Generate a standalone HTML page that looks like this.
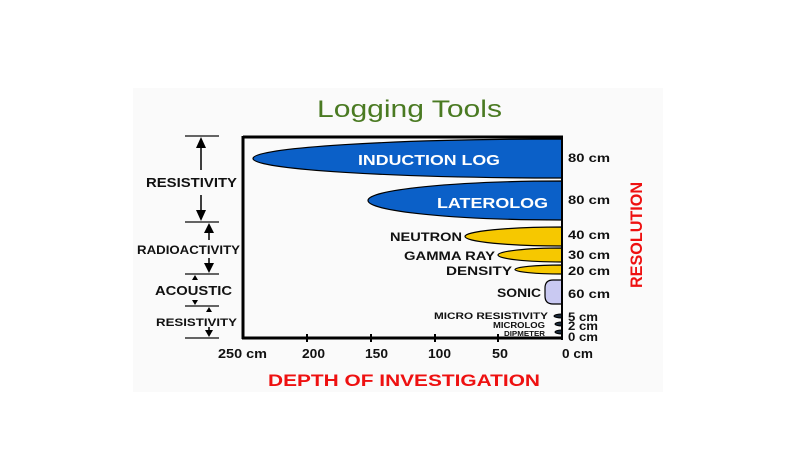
<!DOCTYPE html>
<html><head><meta charset="utf-8"><style>
html,body{margin:0;padding:0;background:#fff;}
svg{display:block;}
text{font-family:"Liberation Sans",Arial,sans-serif;font-weight:bold;}
</style></head><body>
<svg width="800" height="449" viewBox="0 0 800 449" xmlns="http://www.w3.org/2000/svg">
<rect x="0" y="0" width="800" height="449" fill="#fff"/>
<rect x="133" y="88" width="530" height="304" fill="#fafafa"/>

<text x="317" y="117" font-size="24" style="font-weight:normal" fill="#4a7a22" textLength="185" lengthAdjust="spacingAndGlyphs">Logging Tools</text>

<!-- shapes -->
<path d="M562,139 A309,19.5 0 0 0 562,178 Z" fill="#0b60c8" stroke="#000" stroke-width="1.2"/>
<path d="M562,181 A194,19.5 0 0 0 562,220 Z" fill="#0b60c8" stroke="#000" stroke-width="1.2"/>
<path d="M562,227 A97,9.5 0 0 0 562,246 Z" fill="#f6c800" stroke="#000" stroke-width="1.2"/>
<path d="M562,248 A64,7 0 0 0 562,262 Z" fill="#f6c800" stroke="#000" stroke-width="1.2"/>
<path d="M562,265 A47,4.5 0 0 0 562,274 Z" fill="#f6c800" stroke="#000" stroke-width="1.2"/>
<path d="M562,280 L553,280 Q545,280 545,288 L545,296 Q545,304 553,304 L562,304 Z" fill="#c9c9f2" stroke="#000" stroke-width="1.2"/>
<path d="M562,314 A8,2 0 0 0 562,318 Z" fill="#1a2a3a" stroke="#000" stroke-width="1"/>
<path d="M562,322 A7,2 0 0 0 562,326 Z" fill="#1a2a3a" stroke="#000" stroke-width="1"/>
<path d="M562,330 A7,2 0 0 0 562,334 Z" fill="#1a2a3a" stroke="#000" stroke-width="1"/>

<!-- frame -->
<line x1="243" y1="137" x2="563" y2="137" stroke="#000" stroke-width="3"/>
<line x1="243" y1="136" x2="243" y2="339" stroke="#000" stroke-width="3"/>
<line x1="242" y1="338" x2="563" y2="338" stroke="#000" stroke-width="3"/>
<line x1="562" y1="136" x2="562" y2="340" stroke="#000" stroke-width="2"/>
<g stroke="#000" stroke-width="2">
<line x1="307" y1="334" x2="307" y2="342"/>
<line x1="371" y1="334" x2="371" y2="342"/>
<line x1="435" y1="334" x2="435" y2="342"/>
<line x1="498" y1="334" x2="498" y2="342"/>
</g>

<!-- in-chart labels -->
<text x="358" y="165" font-size="15" fill="#fff" textLength="142" lengthAdjust="spacingAndGlyphs">INDUCTION LOG</text>
<text x="437" y="208" font-size="15" fill="#fff" textLength="111" lengthAdjust="spacingAndGlyphs">LATEROLOG</text>
<text x="390" y="241" font-size="12" fill="#111" textLength="72" lengthAdjust="spacingAndGlyphs">NEUTRON</text>
<text x="404" y="260" font-size="12" fill="#111" textLength="91" lengthAdjust="spacingAndGlyphs">GAMMA RAY</text>
<text x="446" y="275" font-size="12" fill="#111" textLength="66" lengthAdjust="spacingAndGlyphs">DENSITY</text>
<text x="497" y="297" font-size="12" fill="#111" textLength="44" lengthAdjust="spacingAndGlyphs">SONIC</text>
<text x="434" y="319" font-size="9.5" fill="#111" textLength="114" lengthAdjust="spacingAndGlyphs">MICRO RESISTIVITY</text>
<text x="493" y="328" font-size="8" fill="#111" textLength="52" lengthAdjust="spacingAndGlyphs">MICROLOG</text>
<text x="504" y="336" font-size="7" fill="#111" textLength="41" lengthAdjust="spacingAndGlyphs">DIPMETER</text>

<!-- right labels -->
<g font-size="12" fill="#111">
<text x="568" y="162" textLength="42" lengthAdjust="spacingAndGlyphs">80 cm</text>
<text x="568" y="204" textLength="42" lengthAdjust="spacingAndGlyphs">80 cm</text>
<text x="568" y="239" textLength="42" lengthAdjust="spacingAndGlyphs">40 cm</text>
<text x="568" y="259" textLength="42" lengthAdjust="spacingAndGlyphs">30 cm</text>
<text x="568" y="275" textLength="42" lengthAdjust="spacingAndGlyphs">20 cm</text>
<text x="568" y="298" textLength="42" lengthAdjust="spacingAndGlyphs">60 cm</text>
<text x="568" y="321" textLength="30" lengthAdjust="spacingAndGlyphs">5 cm</text>
<text x="568" y="330" textLength="30" lengthAdjust="spacingAndGlyphs">2 cm</text>
<text x="568" y="341" textLength="30" lengthAdjust="spacingAndGlyphs">0 cm</text>
</g>
<text transform="translate(642,288) rotate(-90)" x="0" y="0" font-size="17" fill="#ee1111" textLength="106" lengthAdjust="spacingAndGlyphs">RESOLUTION</text>

<!-- bottom axis labels -->
<g font-size="13" fill="#111">
<text x="218" y="358" textLength="49" lengthAdjust="spacingAndGlyphs">250 cm</text>
<text x="302" y="358" textLength="23" lengthAdjust="spacingAndGlyphs">200</text>
<text x="365" y="358" textLength="23" lengthAdjust="spacingAndGlyphs">150</text>
<text x="428" y="358" textLength="23" lengthAdjust="spacingAndGlyphs">100</text>
<text x="492" y="358" textLength="16" lengthAdjust="spacingAndGlyphs">50</text>
<text x="562" y="358" textLength="31" lengthAdjust="spacingAndGlyphs">0 cm</text>
</g>
<text x="268" y="386" font-size="17" fill="#ee1111" textLength="272" lengthAdjust="spacingAndGlyphs">DEPTH OF INVESTIGATION</text>

<!-- left brackets -->
<g stroke="#333" stroke-width="1.5">
<line x1="185" y1="136" x2="219" y2="136"/>
<line x1="185" y1="222" x2="219" y2="222"/>
<line x1="185" y1="274" x2="219" y2="274"/>
<line x1="185" y1="306" x2="219" y2="306"/>
<line x1="185" y1="338" x2="219" y2="338"/>
</g>
<g stroke="#000" stroke-width="1.5" fill="none">
<line x1="201" y1="145" x2="201" y2="170"/>
<line x1="201" y1="195" x2="201" y2="214"/>
<line x1="209" y1="230" x2="209" y2="240"/>
<line x1="209" y1="258" x2="209" y2="267"/>
<line x1="209" y1="327" x2="209" y2="332"/>
</g>
<g fill="#000">
<polygon points="201,137 196,148 206,148"/>
<polygon points="201,221 196,210 206,210"/>
<polygon points="209,223 204,233 214,233"/>
<polygon points="209,273 204,263 214,263"/>
<polygon points="195,275 192,280 198,280"/>
<polygon points="195,305 192,300 198,300"/>
<polygon points="209,307 206,312 212,312"/>
<polygon points="209,337 205,330 213,330"/>
</g>
<g fill="#111">
<text x="146" y="187" font-size="13" textLength="91" lengthAdjust="spacingAndGlyphs">RESISTIVITY</text>
<text x="137" y="254" font-size="11.5" textLength="103" lengthAdjust="spacingAndGlyphs">RADIOACTIVITY</text>
<text x="155" y="295" font-size="13" textLength="77" lengthAdjust="spacingAndGlyphs">ACOUSTIC</text>
<text x="156" y="326" font-size="11" textLength="81" lengthAdjust="spacingAndGlyphs">RESISTIVITY</text>
</g>
</svg>
</body></html>
